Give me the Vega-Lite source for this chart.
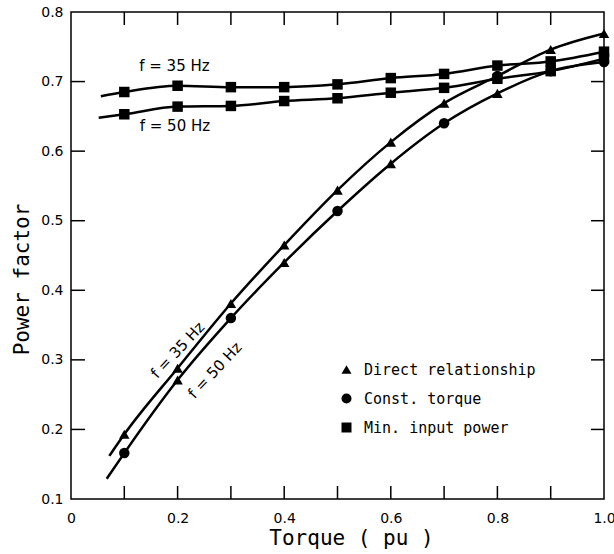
{
  "$schema": "https://vega.github.io/schema/vega-lite/v6.json",
  "width": 533,
  "height": 487,
  "autosize": "none",
  "padding": {"left": 71, "top": 12, "right": 10, "bottom": 55},
  "background": "white",
  "config": {
    "view": {"stroke": "black", "strokeWidth": 1.5},
    "font": "DejaVu Sans",
    "axis": {"domain": false, "tickSize": 0, "labelColor": "black", "titleColor": "black", "grid": false}
  },
  "datasets": {
    "curves": [
      {"curve": "s35", "t": 0.072, "pf": 0.162, "method": null},
      {"curve": "s35", "t": 0.1, "pf": 0.193, "method": "Direct relationship"},
      {"curve": "s35", "t": 0.2, "pf": 0.288, "method": "Direct relationship"},
      {"curve": "s35", "t": 0.3, "pf": 0.381, "method": "Direct relationship"},
      {"curve": "s35", "t": 0.4, "pf": 0.465, "method": "Direct relationship"},
      {"curve": "s35", "t": 0.5, "pf": 0.544, "method": "Direct relationship"},
      {"curve": "s35", "t": 0.6, "pf": 0.613, "method": "Direct relationship"},
      {"curve": "s35", "t": 0.7, "pf": 0.669, "method": "Direct relationship"},
      {"curve": "s35", "t": 0.8, "pf": 0.708, "method": "Const. torque"},
      {"curve": "s35", "t": 0.9, "pf": 0.746, "method": "Direct relationship"},
      {"curve": "s35", "t": 1.0, "pf": 0.769, "method": "Direct relationship"},
      {"curve": "s50", "t": 0.067, "pf": 0.129, "method": null},
      {"curve": "s50", "t": 0.1, "pf": 0.166, "method": "Const. torque"},
      {"curve": "s50", "t": 0.2, "pf": 0.271, "method": "Direct relationship"},
      {"curve": "s50", "t": 0.3, "pf": 0.360, "method": "Const. torque"},
      {"curve": "s50", "t": 0.4, "pf": 0.440, "method": "Direct relationship"},
      {"curve": "s50", "t": 0.5, "pf": 0.514, "method": "Const. torque"},
      {"curve": "s50", "t": 0.6, "pf": 0.582, "method": "Direct relationship"},
      {"curve": "s50", "t": 0.7, "pf": 0.640, "method": "Const. torque"},
      {"curve": "s50", "t": 0.8, "pf": 0.683, "method": "Direct relationship"},
      {"curve": "s50", "t": 0.9, "pf": 0.715, "method": "Const. torque"},
      {"curve": "s50", "t": 1.0, "pf": 0.728, "method": "Const. torque"},
      {"curve": "f35", "t": 0.056, "pf": 0.679, "method": null},
      {"curve": "f35", "t": 0.1, "pf": 0.685, "method": "Min. input power"},
      {"curve": "f35", "t": 0.2, "pf": 0.694, "method": "Min. input power"},
      {"curve": "f35", "t": 0.3, "pf": 0.692, "method": "Min. input power"},
      {"curve": "f35", "t": 0.4, "pf": 0.692, "method": "Min. input power"},
      {"curve": "f35", "t": 0.5, "pf": 0.696, "method": "Min. input power"},
      {"curve": "f35", "t": 0.6, "pf": 0.705, "method": "Min. input power"},
      {"curve": "f35", "t": 0.7, "pf": 0.711, "method": "Min. input power"},
      {"curve": "f35", "t": 0.8, "pf": 0.723, "method": "Min. input power"},
      {"curve": "f35", "t": 0.9, "pf": 0.729, "method": "Min. input power"},
      {"curve": "f35", "t": 1.0, "pf": 0.743, "method": "Min. input power"},
      {"curve": "f50", "t": 0.052, "pf": 0.648, "method": null},
      {"curve": "f50", "t": 0.1, "pf": 0.653, "method": "Min. input power"},
      {"curve": "f50", "t": 0.2, "pf": 0.664, "method": "Min. input power"},
      {"curve": "f50", "t": 0.3, "pf": 0.665, "method": "Min. input power"},
      {"curve": "f50", "t": 0.4, "pf": 0.672, "method": "Min. input power"},
      {"curve": "f50", "t": 0.5, "pf": 0.676, "method": "Min. input power"},
      {"curve": "f50", "t": 0.6, "pf": 0.684, "method": "Min. input power"},
      {"curve": "f50", "t": 0.7, "pf": 0.691, "method": "Min. input power"},
      {"curve": "f50", "t": 0.8, "pf": 0.704, "method": "Min. input power"},
      {"curve": "f50", "t": 0.9, "pf": 0.715, "method": "Min. input power"},
      {"curve": "f50", "t": 1.0, "pf": 0.733, "method": "Min. input power"}
    ],
    "notes": [
      {"t": 0.194, "pf": 0.723, "label": "f = 35 Hz", "angle": 0},
      {"t": 0.195, "pf": 0.636, "label": "f = 50 Hz", "angle": 0},
      {"t": 0.2, "pf": 0.314, "label": "f = 35 Hz", "angle": -47},
      {"t": 0.27, "pf": 0.285, "label": "f = 50 Hz", "angle": -47}
    ],
    "xticks": [
      {"v": 0.1, "edge": 0.1}, {"v": 0.2, "edge": 0.1}, {"v": 0.3, "edge": 0.1}, {"v": 0.4, "edge": 0.1}, {"v": 0.5, "edge": 0.1},
      {"v": 0.6, "edge": 0.1}, {"v": 0.7, "edge": 0.1}, {"v": 0.8, "edge": 0.1}, {"v": 0.9, "edge": 0.1},
      {"v": 0.1, "edge": 0.8}, {"v": 0.2, "edge": 0.8}, {"v": 0.3, "edge": 0.8}, {"v": 0.4, "edge": 0.8}, {"v": 0.5, "edge": 0.8},
      {"v": 0.6, "edge": 0.8}, {"v": 0.7, "edge": 0.8}, {"v": 0.8, "edge": 0.8}, {"v": 0.9, "edge": 0.8}
    ],
    "yticks": [
      {"v": 0.2, "edge": 0}, {"v": 0.3, "edge": 0}, {"v": 0.4, "edge": 0}, {"v": 0.5, "edge": 0}, {"v": 0.6, "edge": 0}, {"v": 0.7, "edge": 0},
      {"v": 0.2, "edge": 1}, {"v": 0.3, "edge": 1}, {"v": 0.4, "edge": 1}, {"v": 0.5, "edge": 1}, {"v": 0.6, "edge": 1}, {"v": 0.7, "edge": 1}
    ]
  },
  "layer": [
    {
      "data": {"name": "curves"},
      "mark": {"type": "line", "interpolate": "monotone", "color": "black", "strokeWidth": 2.5},
      "encoding": {
        "x": {"field": "t", "type": "quantitative",
          "scale": {"domain": [0, 1], "nice": false, "zero": false},
          "axis": {"orient": "bottom", "labelPadding": 12,
            "title": "Torque ( pu )", "titleFont": "DejaVu Sans Mono", "titleFontSize": 21, "titleFontWeight": "normal",
            "titleBaseline": "alphabetic", "titleY": 45, "titleX": 280,
            "values": [0, 0.2, 0.4, 0.6, 0.8, 1.0],
            "labelExpr": "datum.value == 0 ? '0' : format(datum.value, '.1f')",
            "labelFontSize": 14, "labelFlush": false}},
        "y": {"field": "pf", "type": "quantitative",
          "scale": {"domain": [0.1, 0.8], "nice": false, "zero": false},
          "axis": {"orient": "left", "labelPadding": 8,
            "title": "Power factor", "titleFont": "DejaVu Sans Mono", "titleFontSize": 21, "titleFontWeight": "normal",
            "titleX": -49, "titleY": 267, "titleBaseline": "middle", "titleAlign": "center", "titleAngle": -90,
            "values": [0.1, 0.2, 0.3, 0.4, 0.5, 0.6, 0.7, 0.8], "format": ".1f",
            "labelFontSize": 14, "labelFlush": false}},
        "detail": {"field": "curve"}
      }
    },
    {
      "data": {"name": "xticks"},
      "transform": [{"filter": "datum.edge < 0.5"}],
      "mark": {"type": "tick", "orient": "vertical", "size": 13, "thickness": 1.5, "color": "black", "opacity": 1, "yOffset": -6.5},
      "encoding": {
        "x": {"field": "v", "type": "quantitative"},
        "y": {"field": "edge", "type": "quantitative"}
      }
    },
    {
      "data": {"name": "xticks"},
      "transform": [{"filter": "datum.edge > 0.5"}],
      "mark": {"type": "tick", "orient": "vertical", "size": 13, "thickness": 1.5, "color": "black", "opacity": 1, "yOffset": 6.5},
      "encoding": {
        "x": {"field": "v", "type": "quantitative"},
        "y": {"field": "edge", "type": "quantitative"}
      }
    },
    {
      "data": {"name": "yticks"},
      "transform": [{"filter": "datum.edge < 0.5"}],
      "mark": {"type": "tick", "orient": "horizontal", "size": 14, "thickness": 1.5, "color": "black", "opacity": 1, "xOffset": 7},
      "encoding": {
        "y": {"field": "v", "type": "quantitative"},
        "x": {"field": "edge", "type": "quantitative"}
      }
    },
    {
      "data": {"name": "yticks"},
      "transform": [{"filter": "datum.edge > 0.5"}],
      "mark": {"type": "tick", "orient": "horizontal", "size": 13, "thickness": 1.5, "color": "black", "opacity": 1, "xOffset": -6.5},
      "encoding": {
        "y": {"field": "v", "type": "quantitative"},
        "x": {"field": "edge", "type": "quantitative"}
      }
    },
    {
      "data": {"name": "curves"},
      "transform": [{"filter": "isValid(datum.method)"}],
      "mark": {"type": "point", "filled": true, "color": "black", "opacity": 1, "size": 110},
      "encoding": {
        "x": {"field": "t", "type": "quantitative"},
        "y": {"field": "pf", "type": "quantitative"},
        "shape": {"field": "method", "type": "nominal",
          "scale": {"domain": ["Direct relationship", "Const. torque", "Min. input power"], "range": ["triangle-up", "circle", "square"]},
          "legend": {"title": null, "orient": "none", "legendX": 268, "legendY": 350,
            "labelFont": "DejaVu Sans Mono", "labelFontSize": 15, "labelColor": "black", "labelLimit": 400,
            "symbolFillColor": "black", "symbolStrokeColor": "black",
            "symbolSize": 100, "rowPadding": 12, "labelOffset": 10}}
      }
    },
    {
      "data": {"name": "notes"},
      "mark": {"type": "text", "fontSize": 15, "color": "black", "align": "center", "baseline": "middle"},
      "encoding": {
        "x": {"field": "t", "type": "quantitative"},
        "y": {"field": "pf", "type": "quantitative"},
        "text": {"field": "label"},
        "angle": {"field": "angle", "type": "quantitative", "scale": null}
      }
    }
  ]
}
